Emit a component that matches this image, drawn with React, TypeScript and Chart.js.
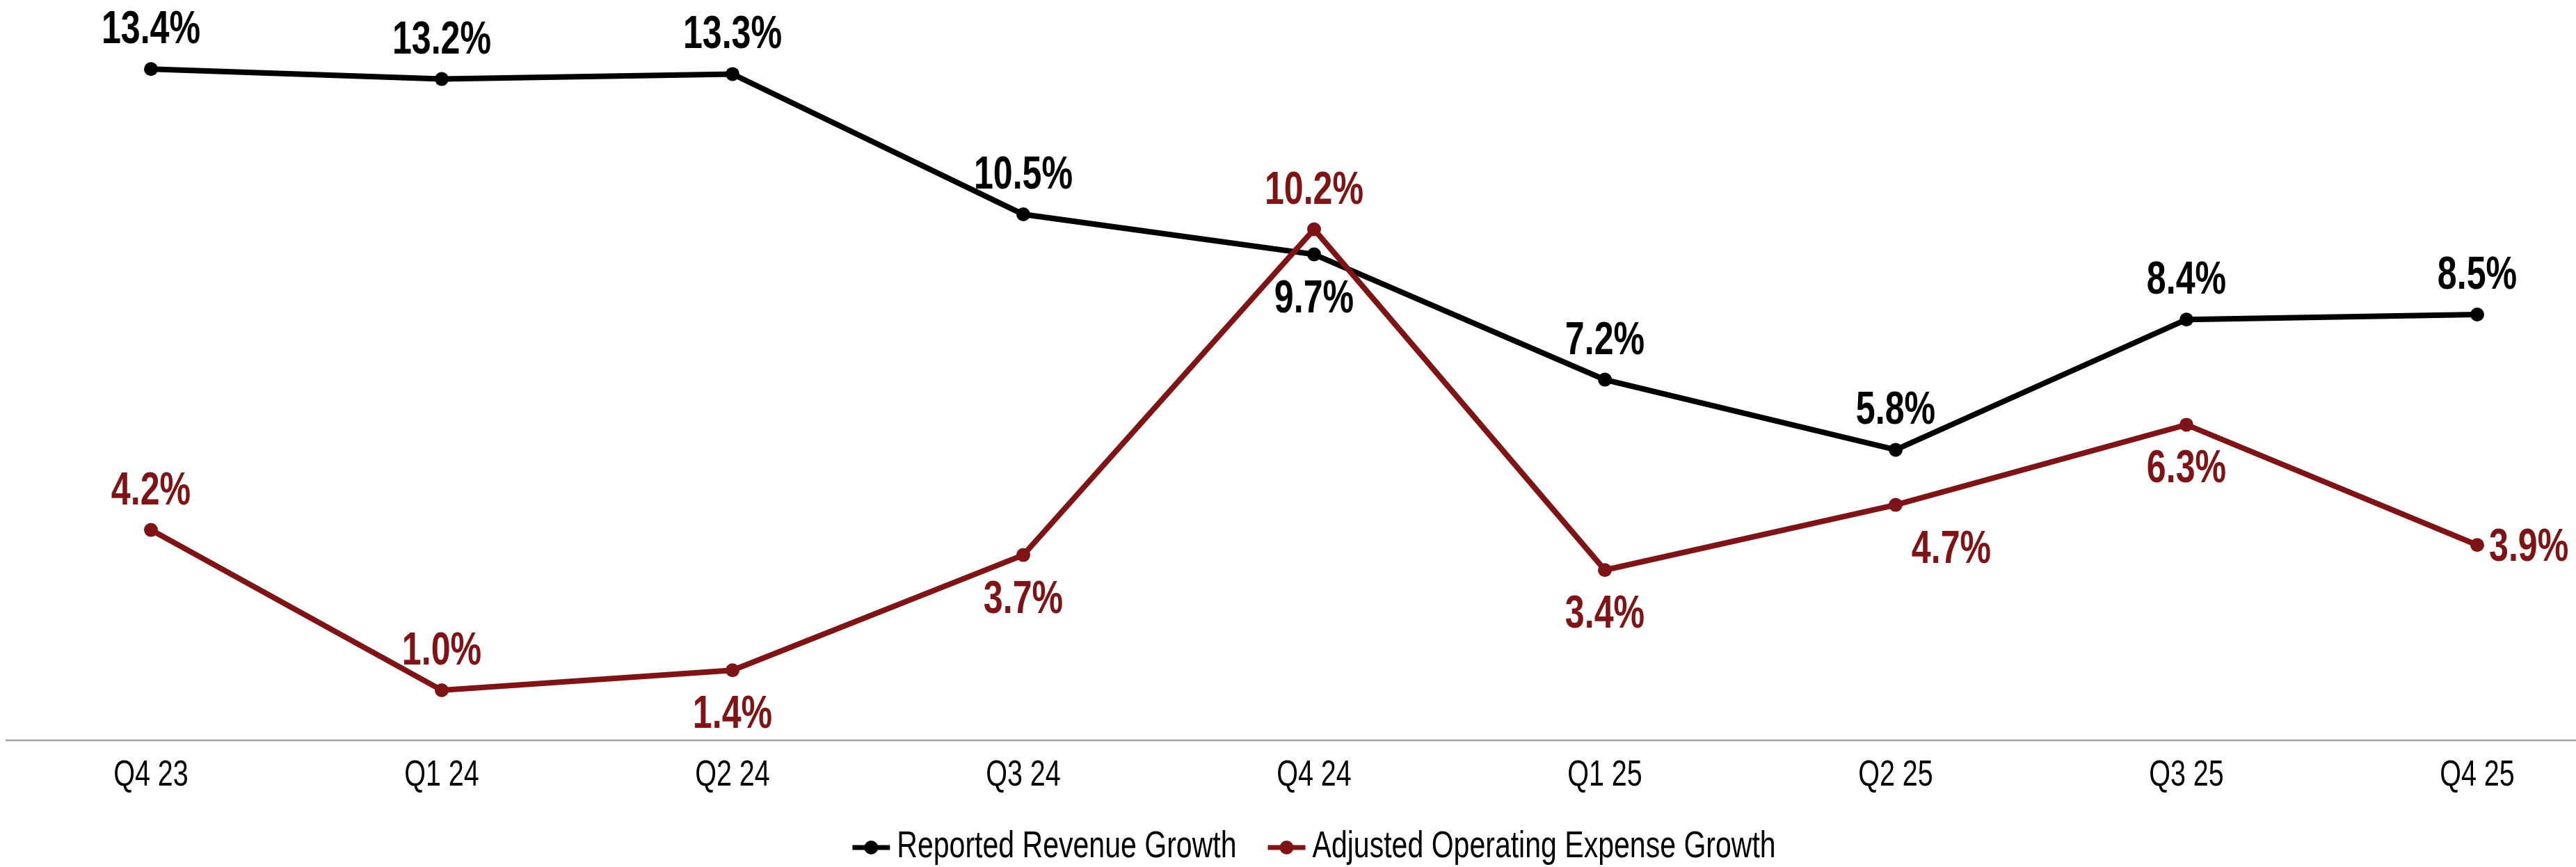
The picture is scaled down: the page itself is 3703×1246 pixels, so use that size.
import React, { useEffect, useRef } from 'react';
import { Chart, registerables } from 'chart.js';

Chart.register(...registerables);

// ---- data ----
const categories = ['Q4 23', 'Q1 24', 'Q2 24', 'Q3 24', 'Q4 24', 'Q1 25', 'Q2 25', 'Q3 25', 'Q4 25'];
const reportedRevenueGrowth = [13.4, 13.2, 13.3, 10.5, 9.7, 7.2, 5.8, 8.4, 8.5];
const adjustedOpexGrowth = [4.2, 1.0, 1.4, 3.7, 10.2, 3.4, 4.7, 6.3, 3.9];
const seriesNames = ['Reported Revenue Growth', 'Adjusted Operating Expense Growth'];
const yMin = 0;
const yMax = 14;

// ---- styles ----
const BLACK = '#000000';
const RED = '#7F1416';
const FONT = "'Liberation Sans', Arial, sans-serif";
const CONDENSE = 0.76;

// label placement for each series / point
const labelPlacement = [
  ['above', 'above', 'above', 'above', 'below', 'above', 'above', 'above', 'above'],
  ['above', 'above', 'below', 'below', 'above', 'below', 'below-right', 'below', 'right'],
];

function drawCondensed(ctx: CanvasRenderingContext2D, text: string, x: number, y: number, align: 'left' | 'center') {
  ctx.save();
  ctx.translate(x, y);
  ctx.scale(CONDENSE, 1);
  ctx.textAlign = align;
  ctx.textBaseline = 'alphabetic';
  ctx.fillText(text, 0, 0);
  ctx.restore();
}

function condensedWidth(ctx: CanvasRenderingContext2D, text: string) {
  return ctx.measureText(text).width * CONDENSE;
}

const dataLabelPlugin = {
  id: 'dataLabels',
  afterDatasetsDraw(chart: any) {
    const ctx = chart.ctx;
    chart.data.datasets.forEach((ds: any, di: number) => {
      const meta = chart.getDatasetMeta(di);
      ctx.save();
      ctx.font = `bold 66px ${FONT}`;
      ctx.fillStyle = ds.borderColor;
      meta.data.forEach((pt: any, i: number) => {
        const v = ds.data[i] as number;
        const txt = v.toFixed(1) + '%';
        const place = labelPlacement[di][i];
        if (place === 'above') {
          drawCondensed(ctx, txt, pt.x, pt.y - 37, 'center');
        } else if (place === 'below') {
          drawCondensed(ctx, txt, pt.x, pt.y + 83, 'center');
        } else if (place === 'below-right') {
          drawCondensed(ctx, txt, pt.x + 80, pt.y + 83, 'center');
        } else {
          drawCondensed(ctx, txt, pt.x + 17, pt.y + 23, 'left');
        }
      });
      ctx.restore();
    });
  },
};

const axisPlugin = {
  id: 'axisLineAndLabels',
  beforeDatasetsDraw(chart: any) {
    const ctx = chart.ctx;
    const xs = chart.scales.x;
    const y = chart.scales.y.getPixelForValue(0);
    ctx.save();
    ctx.strokeStyle = '#a3a3a3';
    ctx.lineWidth = 2.5;
    ctx.beginPath();
    ctx.moveTo(8, y);
    ctx.lineTo(chart.width, y);
    ctx.stroke();
    ctx.fillStyle = '#000';
    ctx.font = `52px ${FONT}`;
    xs.ticks.forEach((t: any, i: number) => {
      const label = xs.getLabelForValue(t.value);
      drawCondensed(ctx, label, xs.getPixelForTick(i), y + 65, 'center');
    });
    ctx.restore();
  },
};

const legendPlugin = {
  id: 'customLegend',
  afterDraw(chart: any) {
    const ctx = chart.ctx;
    const area = chart.chartArea;
    const markerW = 54;
    const gapText = 10;
    const gapItems = 45;
    ctx.save();
    ctx.font = `54px ${FONT}`;
    const items = [...chart.data.datasets]
      .sort((a: any, b: any) => a.legendIndex - b.legendIndex)
      .map((ds: any) => ({ label: ds.label, color: ds.borderColor, w: condensedWidth(ctx, ds.label) }));
    const total = items.reduce((s: number, it: any) => s + markerW + gapText + it.w, 0) + gapItems * (items.length - 1);
    let x = (area.left + area.right) / 2 - total / 2;
    const cy = 1218;
    items.forEach((it: any) => {
      ctx.strokeStyle = it.color;
      ctx.fillStyle = it.color;
      ctx.lineWidth = 7;
      ctx.beginPath();
      ctx.moveTo(x, cy);
      ctx.lineTo(x + markerW, cy);
      ctx.stroke();
      ctx.beginPath();
      ctx.arc(x + markerW / 2, cy, 10, 0, Math.PI * 2);
      ctx.fill();
      x += markerW + gapText;
      ctx.fillStyle = '#000';
      drawCondensed(ctx, it.label, x, 1232, 'left');
      x += it.w + gapItems;
    });
    ctx.restore();
  },
};

export default function App() {
  const canvasRef = useRef<HTMLCanvasElement | null>(null);

  useEffect(() => {
    if (!canvasRef.current) return;
    const chart = new Chart(canvasRef.current, {
      type: 'line',
      data: {
        labels: categories,
        datasets: [
          {
            label: seriesNames[0],
            data: reportedRevenueGrowth,
            borderColor: BLACK,
            backgroundColor: BLACK,
            pointBackgroundColor: BLACK,
            borderWidth: 8,
            pointRadius: 10,
            pointHoverRadius: 10,
            pointBorderWidth: 0,
            tension: 0,
            order: 2,
            legendIndex: 0,
          } as any,
          {
            label: seriesNames[1],
            data: adjustedOpexGrowth,
            borderColor: RED,
            backgroundColor: RED,
            pointBackgroundColor: RED,
            borderWidth: 8,
            pointRadius: 10,
            pointHoverRadius: 10,
            pointBorderWidth: 0,
            tension: 0,
            order: 1,
            legendIndex: 1,
          } as any,
        ],
      },
      options: {
        animation: false,
        responsive: true,
        maintainAspectRatio: false,
        devicePixelRatio: 1,
        layout: { padding: { left: 217, right: 142, top: 56, bottom: 182 } },
        plugins: {
          legend: { display: false },
          tooltip: { enabled: false },
        },
        scales: {
          x: {
            offset: false,
            grid: { display: false, drawTicks: false },
            border: { display: false },
            ticks: { display: false, autoSkip: false, maxRotation: 0 },
          },
          y: { display: false, min: yMin, max: yMax },
        },
      },
      plugins: [axisPlugin, dataLabelPlugin, legendPlugin],
    });
    return () => chart.destroy();
  }, []);

  return (
    <div style={{ position: 'fixed', left: 0, top: 0, width: '3703px', height: '1246px', background: '#fff' }}>
      <canvas ref={canvasRef} />
    </div>
  );
}
